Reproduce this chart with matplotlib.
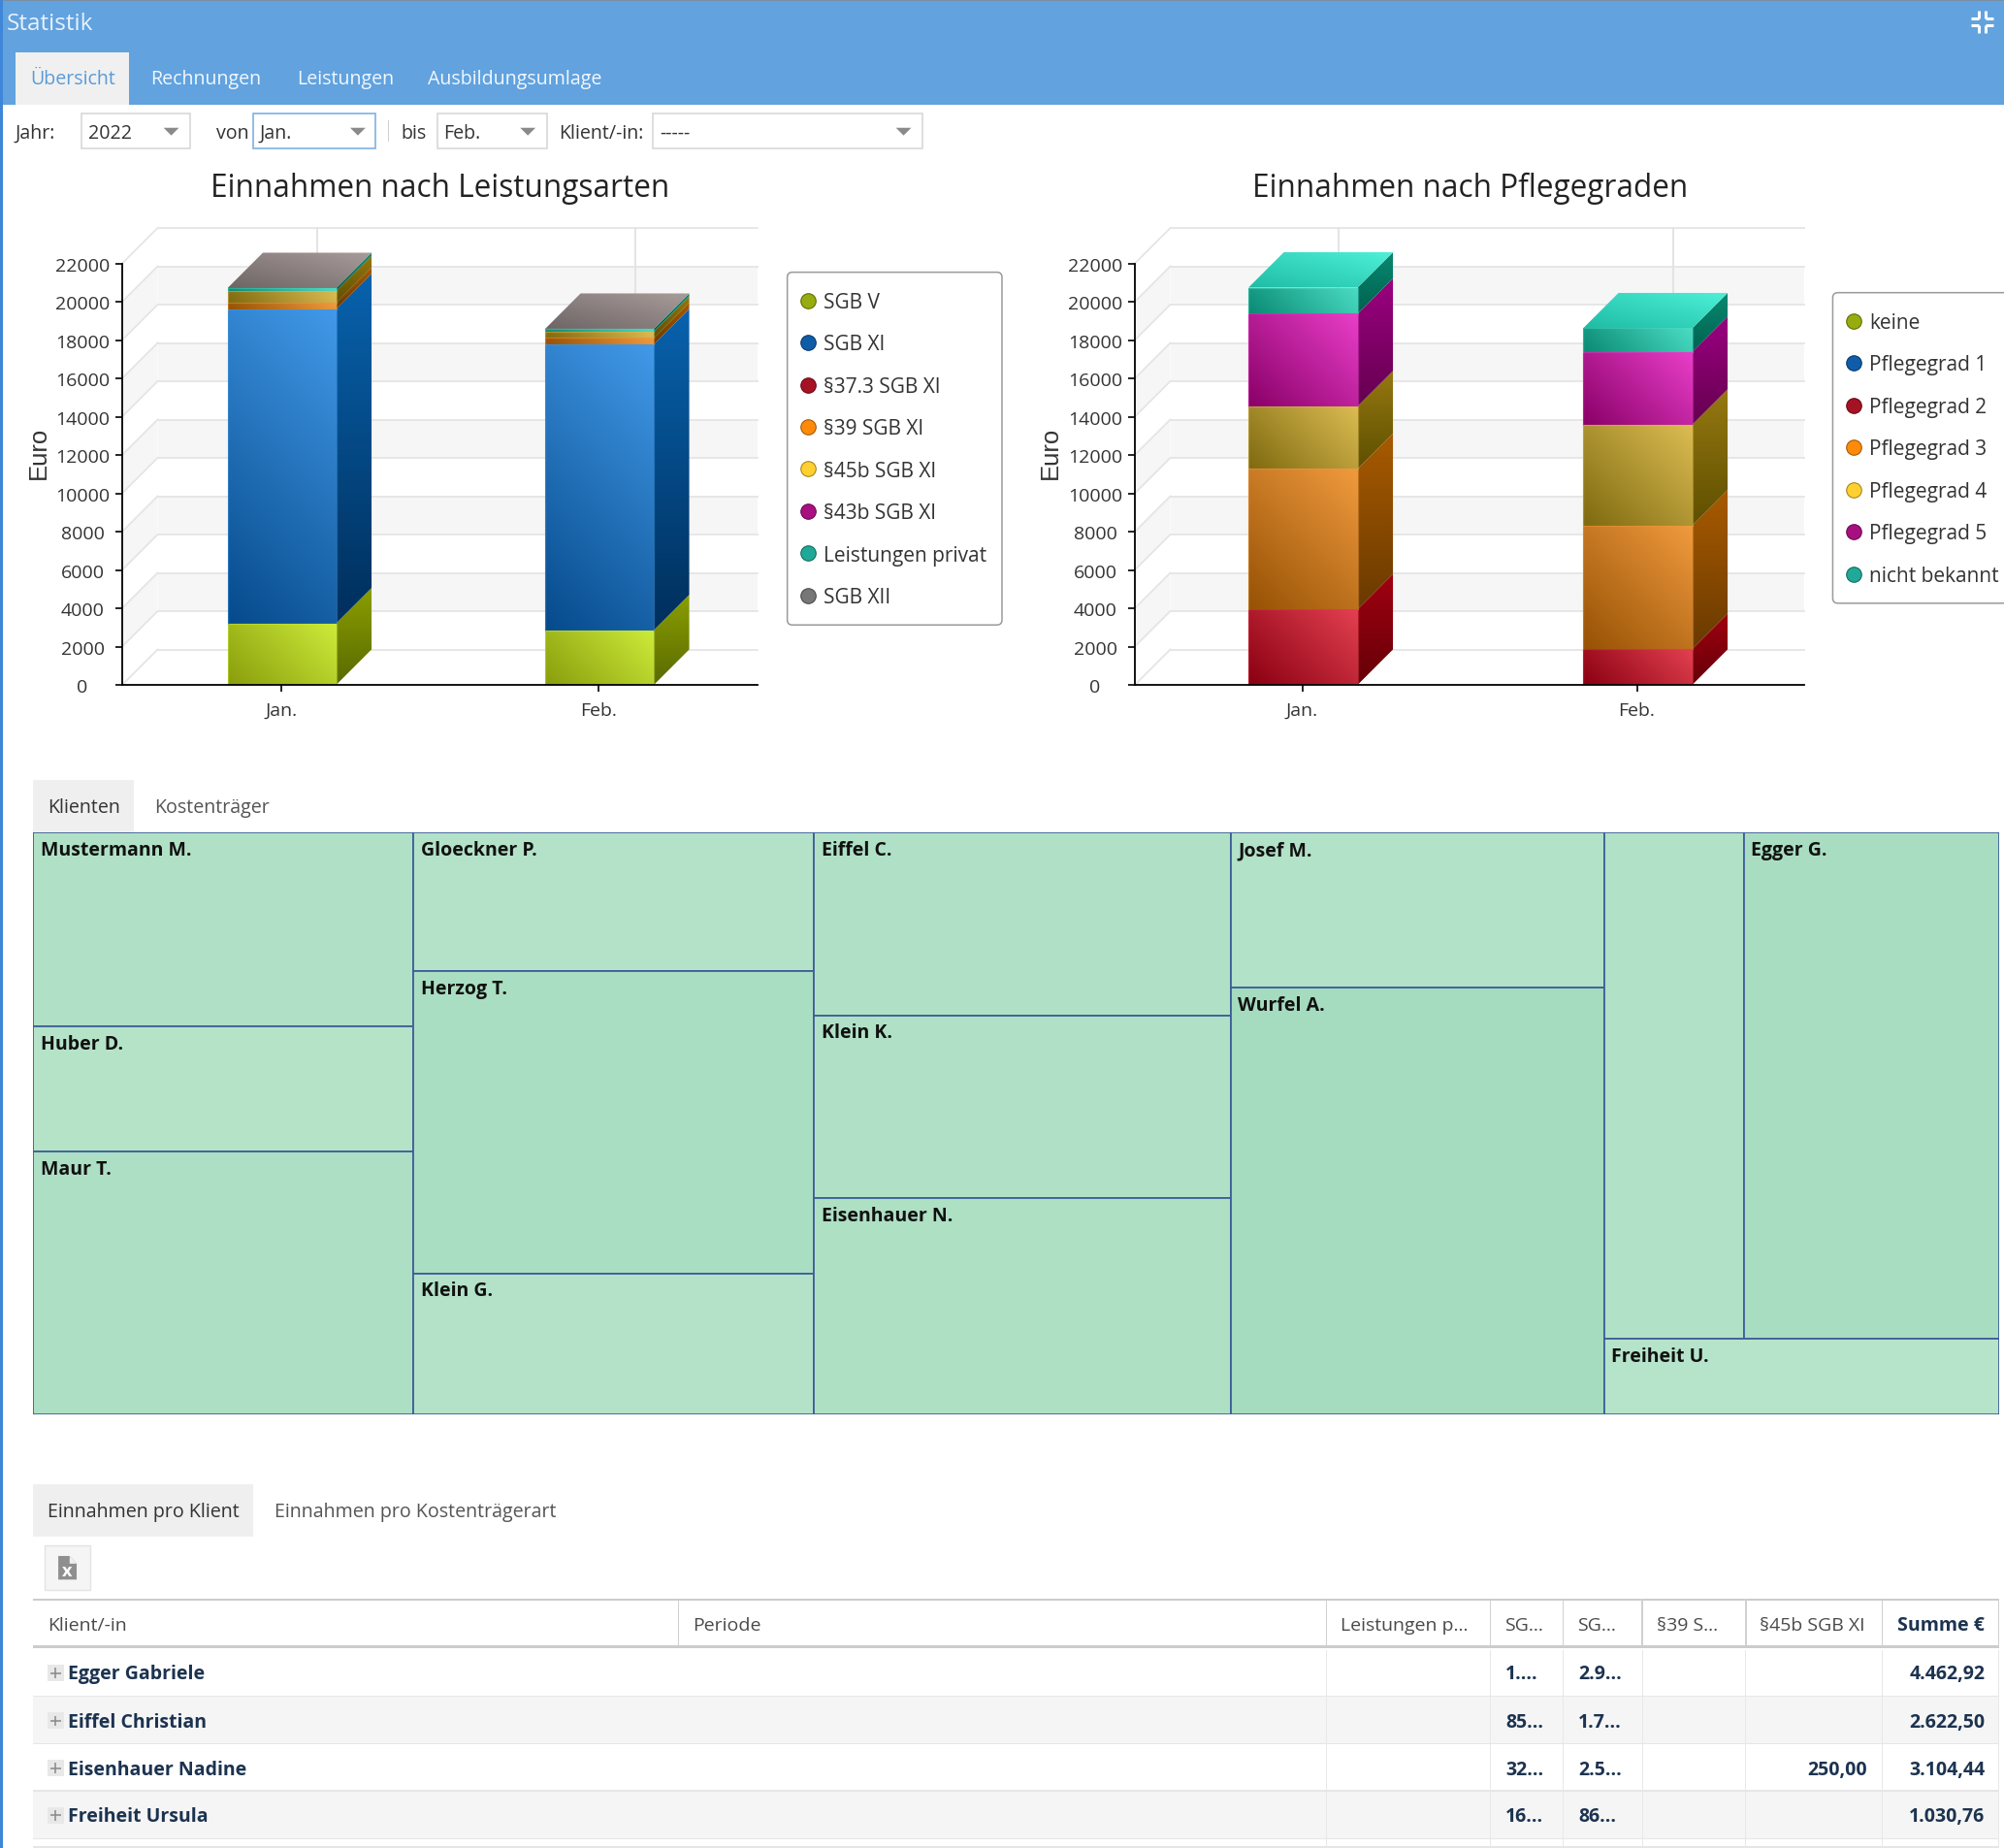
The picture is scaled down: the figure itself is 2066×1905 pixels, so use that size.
import numpy as np
import matplotlib
matplotlib.use('Agg')
import matplotlib.pyplot as plt
from matplotlib.patches import Rectangle, Polygon, FancyBboxPatch
from matplotlib.colors import to_rgb, LinearSegmentedColormap, Normalize
from matplotlib.transforms import ScaledTranslation

plt.rcParams['font.family'] = ['Open Sans', 'DejaVu Sans']

# === Daten ===
monate = ["Jan.", "Feb."]
achse_y = list(range(0, 22001, 2000))

leistungsarten = ["SGB V", "SGB XI", "§37.3 SGB XI", "§39 SGB XI", "§45b SGB XI",
                  "§43b SGB XI", "Leistungen privat", "SGB XII"]
werte_leistung = {
    "SGB V": [3211, 2857],
    "SGB XI": [16399, 14918],
    "§37.3 SGB XI": [0, 0],
    "§39 SGB XI": [339, 329],
    "§45b SGB XI": [608, 329],
    "§43b SGB XI": [0, 0],
    "Leistungen privat": [152, 151],
    "SGB XII": [0, 0],
}

pflegegrade = ["keine", "Pflegegrad 1", "Pflegegrad 2", "Pflegegrad 3", "Pflegegrad 4",
               "Pflegegrad 5", "nicht bekannt"]
werte_pflege = {
    "keine": [0, 0],
    "Pflegegrad 1": [0, 0],
    "Pflegegrad 2": [3945, 1871],
    "Pflegegrad 3": [7332, 6448],
    "Pflegegrad 4": [3262, 5259],
    "Pflegegrad 5": [4829, 3793],
    "nicht bekannt": [1366, 1239],
}

# Reihenfolge im Treemap: Spalten > Zeilen > Zellen
klienten_werte = {
    "Mustermann M.": 2535, "Huber D.": 1645, "Maur T.": 3442,
    "Gloeckner P.": 1911, "Herzog T.": 4176, "Klein G.": 1946,
    "Eiffel C.": 2622.50, "Klein K.": 2625, "Eisenhauer N.": 3104.44,
    "Josef M.": 1997, "Wurfel A.": 5497,
    "": 2434, "Egger G.": 4462.92, "Freiheit U.": 1030.76,
}
treemap_spalten = [
    [["Mustermann M."], ["Huber D."], ["Maur T."]],
    [["Gloeckner P."], ["Herzog T."], ["Klein G."]],
    [["Eiffel C."], ["Klein K."], ["Eisenhauer N."]],
    [["Josef M."], ["Wurfel A."]],
    [["", "Egger G."], ["Freiheit U."]],
]

tabelle_kopf = ["Klient/-in", "Periode", "Leistungen p...", "SG...", "SG...", "§39 S...", "§45b SGB XI", "Summe €"]
tabelle_klienten = ["Egger Gabriele", "Eiffel Christian", "Eisenhauer Nadine", "Freiheit Ursula"]
tabelle_sg1 = ["1....", "85...", "32...", "16..."]
tabelle_sg2 = ["2.9...", "1.7...", "2.5...", "86..."]
tabelle_45b = ["", "", "250,00", ""]
tabelle_summe = ["4.462,92", "2.622,50", "3.104,44", "1.030,76"]

# === Farben: Verlauf Front (dunkel, hell), Seite (oben, unten), Legende ===
FARBEN = {
    "gruen": (("#8a9e0c", "#cdeb3a"), ("#8a9e00", "#5a6a00"), "#97ac0e"),
    "blau": (("#064b8c", "#4299e8"), ("#0862ad", "#002f5c"), "#0f5ca8"),
    "rot": (("#8a0012", "#e2404f"), ("#a00010", "#650008"), "#a51224"),
    "orange": (("#975204", "#f09a3e"), ("#a85a00", "#6a3a00"), "#ff8a0a"),
    "gelb": (("#7f6a10", "#dcbc52"), ("#957810", "#5f4f00"), "#ffd030"),
    "lila": (("#8a0068", "#e83ec8"), ("#9a0080", "#65004f"), "#a81080"),
    "tuerkis": (("#0a8a74", "#4adcc4"), ("#088a70", "#006050"), "#20a898"),
    "grau": (("#6e6767", "#a39a98"), ("#6e6767", "#4e4747"), "#777777"),
}
farben_leistung = ["gruen", "blau", "rot", "orange", "gelb", "lila", "tuerkis", "grau"]
farben_pflege = ["gruen", "blau", "rot", "orange", "gelb", "lila", "tuerkis"]
DECKEL = {"grau": ("#6e6565", "#a89c9a"), "tuerkis": ("#1fbca4", "#4df0d8")}

TEXT = "#333333"
NAVY = "#1c3350"
W, H = 2066, 1905

fig = plt.figure(figsize=(W / 100, H / 100), dpi=100, facecolor="white")

# Hintergrund in Bildschirm-Koordinaten (1568 breit)
bg = fig.add_axes([0, 0, 1, 1], zorder=0)
bg.set_xlim(0, 1568)
bg.set_ylim(1446, 0)
bg.axis("off")


def box(x0, y0, x1, y1, fc, ec="none", lw=0.0):
    bg.add_patch(Rectangle((x0, y0), x1 - x0, y1 - y0, facecolor=fc, edgecolor=ec, linewidth=lw))


def txt(x, y, s, size=14.1, color=TEXT, ha="left", weight="normal", **kw):
    bg.text(x, y + 1.5, s, fontsize=size, color=color, ha=ha, va="center", fontweight=weight, **kw)


def achsen_px(x0, y0, x1, y1):
    a = fig.add_axes([x0 / W, 1 - y1 / H, (x1 - x0) / W, (y1 - y0) / H], zorder=2)
    a.patch.set_alpha(0)
    return a


def flaeche(ax, ecken, c0, c1, modus, groesse=(1.0, 1.0)):
    # Verlauf als Bild, auf das Polygon zugeschnitten
    ecken = np.array(ecken)
    n = 48
    u, v = np.meshgrid(np.linspace(0, 1, n), np.linspace(0, 1, n))
    # "diag": Verlauf unter 45 Grad im Bild, darum nach Pixelgroesse gewichtet
    t = (u * groesse[0] + v * groesse[1]) / (groesse[0] + groesse[1]) if modus == "diag" else v
    c0, c1 = np.array(to_rgb(c0)), np.array(to_rgb(c1))
    bild = c0[None, None, :] * (1 - t[..., None]) + c1[None, None, :] * t[..., None]
    ext = (ecken[:, 0].min(), ecken[:, 0].max(), ecken[:, 1].min(), ecken[:, 1].max())
    im = ax.imshow(bild, extent=ext, origin="lower", aspect="auto", interpolation="bilinear", zorder=3)
    im.set_clip_path(Polygon(ecken, transform=ax.transData))
    im.set_clip_box(fig.bbox)


def balken_3d(rahmen, reihen, werte, farben, breite_px, tiefe_px=36.5, versatz_px=0.8):
    ax = achsen_px(*rahmen)
    pro_x = (rahmen[2] - rahmen[0]) / 2.0
    pro_y = (rahmen[3] - rahmen[1]) / 22000.0
    dx, dy = tiefe_px / pro_x, tiefe_px / pro_y
    b = breite_px / pro_x / 2
    versatz = versatz_px / pro_x

    # Rueckwand und Seitenwand, jedes zweite Band grau
    rechts = 1.5
    for i, v in enumerate(achse_y):
        if i % 2 == 1 and i < 11:
            ax.add_patch(Rectangle((-0.5 + dx, v + dy), rechts + 0.5 - dx, 2000, facecolor="#f6f6f6",
                                   edgecolor="none", clip_on=False, zorder=1))
            ax.add_patch(Polygon([(-0.5, v), (-0.5 + dx, v + dy), (-0.5 + dx, v + 2000 + dy), (-0.5, v + 2000)],
                                 facecolor="#f6f6f6", edgecolor="none", clip_on=False, zorder=1))
    for i, v in enumerate(achse_y):
        ax.plot([-0.5 + dx, rechts], [v + dy, v + dy], color="#e5e5e5", lw=1.3, clip_on=False, zorder=1.5)
        ax.plot([-0.5, -0.5 + dx], [v, v + dy], color="#e5e5e5", lw=1.3, clip_on=False, zorder=1.5)
    for x in range(len(monate)):
        ax.plot([x + dx + versatz, x + dx + versatz], [dy, 22000 + dy], color="#e2e2e2", lw=1.3,
                clip_on=False, zorder=1.5)

    # Saeulen
    for i in range(len(monate)):
        basis = 0.0
        l, r = i - b + versatz, i + b + versatz
        for name, f in zip(reihen, farben):
            wert = werte[name][i]
            if wert <= 0:
                continue
            front, seite, _ = FARBEN[f]
            o = basis + wert
            flaeche(ax, [(r, basis), (r + dx, basis + dy), (r + dx, o + dy), (r, o)], seite[1], seite[0], "vert")
            flaeche(ax, [(l, basis), (r, basis), (r, o), (l, o)], front[0], front[1], "diag",
                    (breite_px, wert * pro_y))
            ax.plot([l, l, r, r], [basis, o, o, basis], color=front[1], alpha=0.45, lw=0.9,
                    clip_on=False, zorder=3.2)
            basis = o
        c0, c1 = DECKEL[farben[-1]]
        flaeche(ax, [(l, basis), (r, basis), (r + dx, basis + dy), (l + dx, basis + dy)], c0, c1, "diag")

    ax.set_xlim(-0.5, 1.5)
    ax.set_ylim(0, 22000)
    ax.set_xticks(range(len(monate)), monate)
    ax.set_yticks(achse_y)
    ax.tick_params(axis="x", length=5, width=1.2, pad=8, labelsize=14, labelcolor=TEXT)
    ax.tick_params(axis="y", length=5, width=1.2, pad=24.5, labelsize=14, labelcolor=TEXT)
    runter = ScaledTranslation(0, -1.0 / 72, fig.dpi_scale_trans)
    for lab in ax.get_yticklabels():
        lab.set_ha("center")
        lab.set_transform(lab.get_transform() + runter)
    ax.spines[["top", "right"]].set_visible(False)
    for s in ("left", "bottom"):
        ax.spines[s].set_zorder(5)
        ax.spines[s].set_linewidth(1.3)
    ax.set_ylabel("Euro", fontsize=18.5, family="Liberation Sans", color=TEXT, va="center")
    return ax


def legende(x0, y0, x1, y1, namen, farben, zeile0):
    bg.add_patch(FancyBboxPatch((x0 + 4, y0 + 4), x1 - x0 - 8, y1 - y0 - 8, boxstyle="round,pad=4",
                                facecolor="white", edgecolor="#9a9a9a", linewidth=1.1, clip_on=False))
    for i, (n, f) in enumerate(zip(namen, farben)):
        y = zeile0 + i * 33.0
        c = np.array(to_rgb(FARBEN[f][2]))
        bg.scatter([x0 + 16.5], [y], s=125, color=c, edgecolor=c * 0.65, linewidth=0.8, zorder=3)
        txt(x0 + 28.5, y + 0.5, n, size=15)


# === Kopfbereich ===
box(0, 0, 1568, 82, "#61a2df")
box(0, 0, 1568, 1, "#7a8fa5")
box(0, 0, 2.5, 1446, "#3f86d8")
txt(5, 17.5, "Statistik", size=17.5, color="#e8f1fa")
box(12, 41, 101, 82, "#f0f0f0")
txt(57, 61, "Übersicht", ha="center", color="#5b9bd5")
for x, s in zip([118, 232, 335], ["Rechnungen", "Leistungen", "Ausbildungsumlage"]):
    txt(x, 61, s, color="#f2f7fc")
for sx in (-1, 1):
    for sy in (-1, 1):
        cx, cy = 1551 + sx * 2.5, 17 + sy * 2.5
        bg.plot([cx, cx + sx * 6], [cy, cy], color="white", lw=2.2, solid_capstyle="butt")
        bg.plot([cx, cx], [cy, cy + sy * 6], color="white", lw=2.2, solid_capstyle="butt")

# === Filterzeile ===
txt(12, 103, "Jahr:")
txt(169, 103, "von")
txt(314, 103, "bis")
txt(437, 103, "Klient/-in:")
auswahl = [(64, 149, "2022", 134), (198, 294, "Jan.", 280), (342, 428, "Feb.", 413), (511, 722, "-----", 707)]
for x0, x1, s, tri in auswahl:
    ec = "#7fb2e3" if s == "Jan." else "#d8d8d8"
    box(x0, 89, x1, 116, "white", ec=ec, lw=1.2)
    txt(x0 + 5, 103, s)
    bg.add_patch(Polygon([(tri - 6, 100), (tri + 6, 100), (tri, 106)], facecolor="#8a8a8a", edgecolor="none"))
box(303.5, 94, 304.5, 111, "#cfcfcf")

# === Saeulendiagramme ===
txt(344.5, 146, "Einnahmen nach Leistungsarten", size=22.7, ha="center", color="#222222")
txt(1150, 146, "Einnahmen nach Pflegegraden", size=22.7, ha="center", color="#222222")
ax1 = balken_3d((126, 271.5, 781, 706), leistungsarten, werte_leistung, farben_leistung, 112)
ax2 = balken_3d((1170, 271.5, 1860, 706), pflegegrade, werte_pflege, farben_pflege, 112.5)
ax1.yaxis.set_label_coords((39.5 - 126) / 655, 0.55)
ax2.yaxis.set_label_coords((1083 - 1170) / 690, 0.55)
legende(616, 213, 784, 489, leistungsarten, farben_leistung, 235)
legende(1434, 229, 1600, 472, pflegegrade, farben_pflege, 251)

# === Treemap ===
box(26, 610, 105, 652, "#efefef")
txt(37, 631, "Klienten")
txt(121, 631, "Kostenträger", color="#555555")

tm = achsen_px(26 * W / 1568, 651.6 * H / 1446, 1564.5 * W / 1568, 1106.5 * H / 1446)
gesamt = sum(klienten_werte.values())
tm_farbe = LinearSegmentedColormap.from_list("tm", ["#b6e4ca", "#a5dbbe"])
tm_norm = Normalize(min(klienten_werte.values()), max(klienten_werte.values()))
x = 0.0
for spalte in treemap_spalten:
    s_summe = sum(klienten_werte[n] for zeile in spalte for n in zeile)
    y = 0.0
    for zeile in spalte:
        z_summe = sum(klienten_werte[n] for n in zeile)
        h = z_summe / s_summe
        xx = x
        for n in zeile:
            b = klienten_werte[n] / z_summe * s_summe
            tm.add_patch(Rectangle((xx, y), b, h, facecolor=tm_farbe(tm_norm(klienten_werte[n])),
                                   edgecolor="#3d5c99", linewidth=1.25))
            if n:
                tm.annotate(n, (xx, y), xytext=(5.5, -13.5), textcoords="offset points", va="center",
                            fontsize=14, fontweight="bold", color="#111111")
            xx += b
        y += h
    x += s_summe
tm.set_xlim(0, gesamt)
tm.set_ylim(1, 0)
tm.axis("off")

# === Tabelle ===
box(26, 1161, 198, 1202, "#efefef")
txt(37, 1182, "Einnahmen pro Klient")
txt(215, 1182, "Einnahmen pro Kostenträgerart", color="#555555")
box(35, 1209.5, 70.5, 1244, "#f5f5f5", ec="#e4e4e4", lw=1)
bg.add_patch(Polygon([(45.6, 1217.5), (54.5, 1217.5), (60, 1223.5), (60, 1236), (45.6, 1236)],
                     facecolor="#8f8f8f", edgecolor="none"))
bg.add_patch(Polygon([(54.5, 1217.5), (60, 1223.5), (54.5, 1223.5)], facecolor="#f0f0f0", edgecolor="none"))
txt(52.8, 1228, "x", size=13, color="white", ha="center", weight="bold")

spalten_x = [26, 531, 1038, 1166, 1223, 1285, 1366, 1472.5, 1564]
zeilen_y = [1288.7, 1327, 1364.3, 1401.3, 1439]

for i in range(4):
    if i % 2 == 1:
        box(26, zeilen_y[i], 1564, zeilen_y[i + 1], "#f5f5f5")
box(26, 1251, 1564, 1252.2, "#cccccc")
box(26, 1287.7, 1564, 1289.7, "#cccccc")
for y in zeilen_y[1:] + [1445.3]:
    box(26, y - 0.5, 1564, y + 0.5, "#e6e6e6")
for x in spalten_x[1:]:
    box(x - 0.5, 1251, x + 0.5, 1288, "#d0d0d0")
    if x != 531:
        box(x - 0.4, 1291, x + 0.4, 1446, "#e8e8e8")

for i, s in enumerate(tabelle_kopf):
    if i == len(tabelle_kopf) - 1:
        txt(1553, 1270.5, s, ha="right", weight="bold", color=NAVY, size=14)
    else:
        txt(spalten_x[i] + 11, 1270.5, s, color="#4a4a4a", size=14)

zeile_mitte = [1309, 1346.5, 1383.5, 1420.5]
for i, y in enumerate(zeile_mitte):
    box(37.2, y - 6.4, 50, y + 6.5, "#e8e8e8")
    bg.plot([39.6, 47.6], [y, y], color="#888888", lw=1.1, solid_capstyle="butt")
    bg.plot([43.6, 43.6], [y - 4, y + 4], color="#888888", lw=1.1, solid_capstyle="butt")
    txt(53.5, y, tabelle_klienten[i], weight="bold", color=NAVY, size=14)
    txt(1178, y, tabelle_sg1[i], weight="bold", color=NAVY, size=14)
    txt(1235, y, tabelle_sg2[i], weight="bold", color=NAVY, size=14)
    if tabelle_45b[i]:
        txt(1461, y, tabelle_45b[i], ha="right", weight="bold", color=NAVY, size=14)
    txt(1553, y, tabelle_summe[i], ha="right", weight="bold", color=NAVY, size=14)

fig.savefig("out.png", dpi=100)
